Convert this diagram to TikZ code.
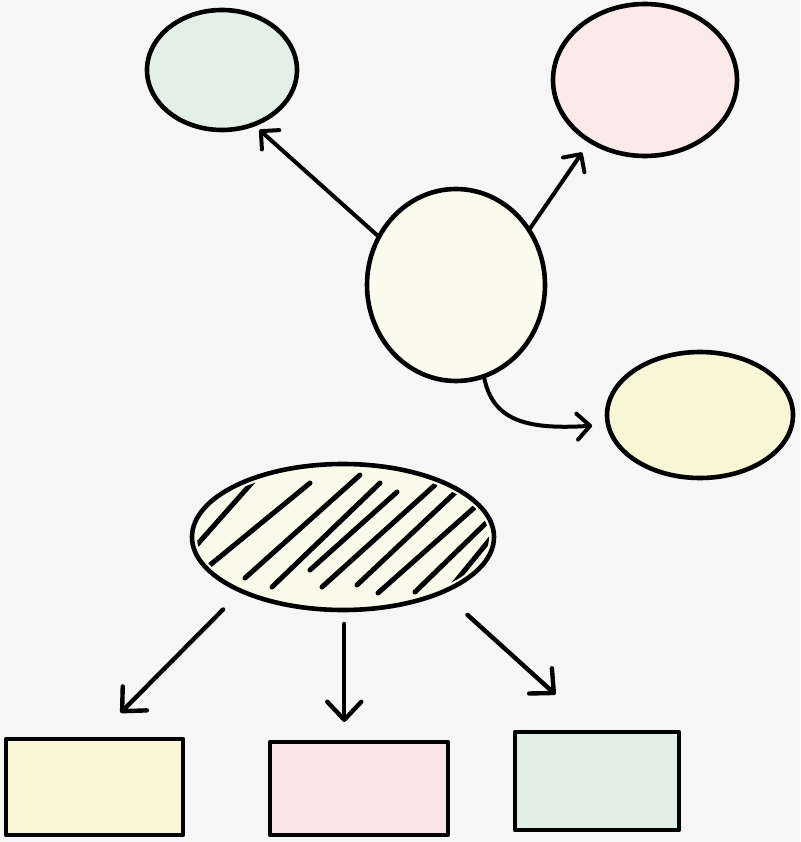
\documentclass[tikz,border=0pt]{standalone}
\usetikzlibrary{shapes.geometric,arrows.meta}
\definecolor{bg}{HTML}{F6F6F6}
\definecolor{cgreen}{HTML}{E3EFE7}
\definecolor{cpink}{HTML}{FCE9EA}
\definecolor{ccenter}{HTML}{FAFBEC}
\definecolor{cyel}{HTML}{F7F7D6}
\definecolor{chat}{HTML}{FAFAEB}
\definecolor{bxyel}{HTML}{F8F8D9}
\definecolor{bxpink}{HTML}{FAE5E6}
\definecolor{bxgreen}{HTML}{E1EEE5}
\begin{document}
\begin{tikzpicture}[x=1pt,y=-1pt,
  ink/.style={draw=black,line width=4.6pt,line cap=round,line join=round},
  blob/.style={ink,ellipse,inner sep=0pt,outer sep=0pt},
  boxnode/.style={ink,rectangle,inner sep=0pt,outer sep=0pt},
  arr/.style={ink,line width=4pt,-{Straight Barb[length=13pt,width=26pt,line cap=round,line join=round]}},
  bigarr/.style={ink,line width=4.4pt,-{Straight Barb[length=18pt,width=34pt,line cap=round,line join=round]}},
  hatch/.style={draw=black,line width=5pt,line cap=round}]
\fill[bg] (0,0) rectangle (800,842);
\useasboundingbox (0,0) rectangle (800,842);
% upper group
\node[blob,fill=cgreen,minimum width=150pt,minimum height=120pt] (green) at (222,70) {};
\node[blob,fill=cpink,minimum width=184pt,minimum height=152pt] (pink) at (645,80) {};
\node[blob,fill=ccenter,minimum width=178pt,minimum height=192pt] (circ) at (456,285) {};
\node[blob,fill=cyel,minimum width=186pt,minimum height=126pt] (yel) at (700,415) {};
\draw[arr,shorten >=8pt] (circ.148) -- (green.300);
\draw[arr,shorten >=14pt] (circ.37) -- (pink.228);
\draw[arr,shorten >=16pt] (circ.-73) .. controls (492,420) and (525,430) .. (yel.186);
% lower group
\node[blob,fill=chat,minimum width=302pt,minimum height=146pt] (hat) at (343,537) {};
\begin{scope}
\clip (hat.center) ellipse [x radius=146pt, y radius=68pt];
\draw[hatch] (195,547) -- (257,477);
\draw[hatch] (210,565) -- (310,483);
\draw[hatch] (245,578) -- (360,475);
\draw[hatch] (272,587) -- (380,483);
\draw[hatch] (310,570) -- (397,492);
\draw[hatch] (322,587) -- (435,485);
\draw[hatch] (357,585) -- (460,488);
\draw[hatch] (378,593) -- (475,507);
\draw[hatch] (415,592) -- (487,522);
\draw[hatch] (447,592) -- (500,527);
\end{scope}
\node[boxnode,fill=bxyel,minimum width=177pt,minimum height=96pt] (b1) at (94.5,787) {};
\node[boxnode,fill=bxpink,minimum width=178pt,minimum height=93pt] (b2) at (359,788.5) {};
\node[boxnode,fill=bxgreen,minimum width=164pt,minimum height=98pt] (b3) at (597,781) {};
\draw[bigarr,shorten <=26pt,shorten >=37pt] (hat.208.5) -- (b1.north);
\draw[bigarr,shorten <=14pt,shorten >=20pt] (hat.-89) -- (hat.-89 |- b2.north);
\draw[bigarr,shorten <=34pt,shorten >=56pt] (hat.-29) -- (b3.north);
\end{tikzpicture}
\end{document}
